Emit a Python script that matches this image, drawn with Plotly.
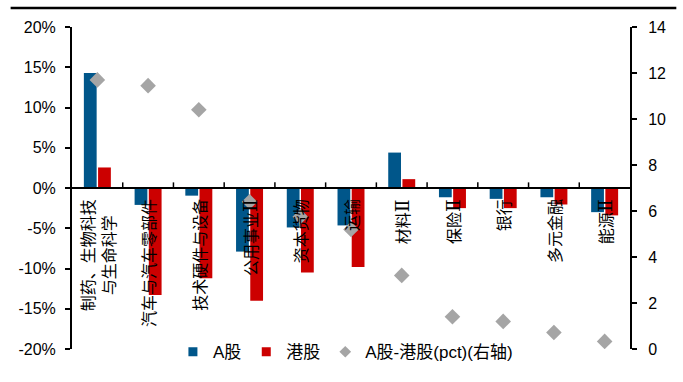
import plotly.graph_objects as go

# 行业分类及涨跌幅数据
categories = ["制药、生物科技<br>与生命科学", "汽车与汽车零部件", "技术硬件与设备", "公用事业Ⅱ",
              "资本货物", "运输", "材料Ⅱ", "保险Ⅱ", "银行", "多元金融", "能源Ⅱ"]
a_share = [14.3, -2.1, -0.95, -7.9, -4.9, -4.65, 4.4, -1.15, -1.35, -1.15, -3.0]
hk_share = [2.55, -13.3, -11.2, -14.0, -10.5, -9.8, 1.1, -2.5, -2.5, -2.05, -3.4]
spread_pct = [11.7, 11.45, 10.4, 6.4, 5.75, 5.2, 3.2, 1.4, 1.2, 0.72, 0.33]

left_ticks = [20, 15, 10, 5, 0, -5, -10, -15, -20]
right_ticks = [0, 2, 4, 6, 8, 10, 12, 14]

BLUE = "#00568A"
RED = "#CC0000"
GREY = "#A5A5A5"
FONT = "Liberation Sans, Arial, Noto Sans CJK SC, sans-serif"
CJK_FONT = "Noto Sans CJK SC, sans-serif"

xs = list(range(len(categories)))

fig = go.Figure()
fig.add_trace(go.Bar(x=xs, y=a_share, name="A股", showlegend=False,
                     marker=dict(color=BLUE, line=dict(width=0))))
fig.add_trace(go.Bar(x=xs, y=hk_share, name="港股", showlegend=False,
                     marker=dict(color=RED, line=dict(width=0))))
fig.add_trace(go.Scatter(x=xs, y=spread_pct, name="A股-港股(pct)(右轴)", mode="markers",
                         yaxis="y2", showlegend=False,
                         marker=dict(symbol="diamond", size=12, color=GREY)))

# 图例条目（小方块 / 小菱形）
for name, color, symbol in [("A股", BLUE, "square"), ("港股", RED, "square"),
                            ("A股-港股(pct)(右轴)", GREY, "diamond")]:
    fig.add_trace(go.Scatter(x=[None], y=[None], mode="markers", name=name,
                             marker=dict(symbol=symbol, size=9, color=color)))

# 零轴线与分类刻度
shapes = [dict(type="line", xref="x", yref="y", x0=-0.5, x1=len(categories) - 0.5, y0=0, y1=0,
               line=dict(color="black", width=2))]
for i in range(1, len(categories)):
    shapes.append(dict(type="line", xref="x", yref="y", x0=i - 0.5, x1=i - 0.5, y0=0, y1=0.7,
                       line=dict(color="black", width=1.5)))
# 顶部横线
shapes.append(dict(type="line", xref="paper", yref="paper", x0=-0.11, x1=1.083, y0=1.059, y1=1.059,
                   line=dict(color="black", width=2.5)))

ROMAN_II = '<span style="font-family:DejaVu Serif;font-size:19px">Ⅱ</span>'

annotations = []
for i, c in enumerate(categories):
    annotations.append(dict(x=i, y=0, xref="x", yref="y", text=c.replace("Ⅱ", ROMAN_II),
                            showarrow=False, textangle=-90, xanchor="center", yanchor="top",
                            yshift=-9, font=dict(family=CJK_FONT, size=16, color="black")))

fig.update_layout(
    width=683, height=382,
    margin=dict(l=72, r=53, t=27, b=31),
    paper_bgcolor="white", plot_bgcolor="white",
    barmode="group", bargap=0.44, bargroupgap=0.1,
    font=dict(family=FONT, size=16, color="black"),
    showlegend=True,
    legend=dict(orientation="h", x=0.49, xanchor="center", y=-0.01, yanchor="middle",
                bgcolor="rgba(0,0,0,0)", font=dict(size=17), itemwidth=30,
                tracegroupgap=0, traceorder="normal"),
    xaxis=dict(range=[-0.5, len(categories) - 0.5], showticklabels=False, showgrid=False,
               zeroline=False, showline=False, ticks=""),
    yaxis=dict(range=[-20, 20], tickvals=left_ticks, ticktext=[f"{v}%" for v in left_ticks],
               showgrid=False, zeroline=False, showline=True, linecolor="black", linewidth=2,
               ticks="outside", ticklen=5, tickwidth=1.5, tickcolor="black", ticklabelstandoff=6),
    yaxis2=dict(range=[0, 14], tickvals=right_ticks, overlaying="y", side="right",
                showgrid=False, zeroline=False, showline=True, linecolor="black", linewidth=2,
                ticks="outside", ticklen=5, tickwidth=1.5, tickcolor="black", ticklabelstandoff=8),
    shapes=shapes,
    annotations=annotations,
)

fig.write_html("out.html")
